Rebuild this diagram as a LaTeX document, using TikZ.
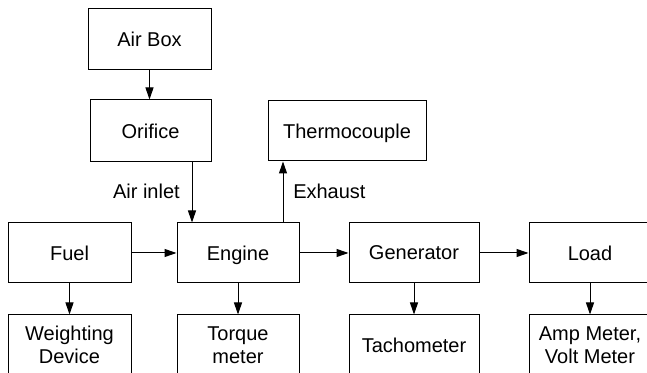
\documentclass[tikz,border=0pt]{standalone}
\usepackage{fontspec}
\setmainfont{Liberation Sans}
\usetikzlibrary{arrows.meta}
\begin{document}
\begin{tikzpicture}[x=0.75pt,y=-0.75pt,
  box/.style={draw=black, line width=0.75pt, rectangle, inner sep=0pt,
    minimum height=45pt, align=center, font=\fontsize{15pt}{17pt}\selectfont},
  onebox/.style={box, text depth=0pt},
  conn/.style={draw=black, line width=0.75pt, -{Triangle[length=9pt,width=6pt]}},
  lbl/.style={inner sep=0pt, font=\fontsize{15pt}{17pt}\selectfont}]
\useasboundingbox (0,0) rectangle (647,373);
\clip (0,0) rectangle (647,373);
\node[onebox, minimum width=92.25pt, minimum height=45.75pt] (airbox) at (149.5,39.5) {Air Box};
\node[onebox, minimum width=90.75pt, minimum height=46.5pt] (orifice) at (150.5,131) {Orifice};
\node[onebox, minimum width=118.5pt] (thermo) at (347,131) {Thermocouple};
\node[onebox, minimum width=92.25pt] (fuel) at (69.5,253) {Fuel};
\node[onebox, minimum width=91.5pt] (engine) at (238,253) {Engine};
\node[onebox, minimum width=97.5pt] (gen) at (414,253) {Generator};
\node[onebox, minimum width=91.5pt] (load) at (590,253) {Load};
\node[box, minimum width=92.25pt] (weight) at (69.5,345) {Weighting\\Device};
\node[box, minimum width=91.5pt] (torque) at (238,345) {Torque\\meter};
\node[onebox, minimum width=97.5pt] (tach) at (414,345) {Tachometer};
\node[box, minimum width=91.5pt] (amp) at (590,345) {Amp Meter,\\Volt Meter};
\coordinate (ai) at (192,192);
\coordinate (ex) at (283,192);
\draw[conn] (airbox.south) -- (airbox.south |- orifice.north);
\draw[conn] (orifice.south -| ai) -- (engine.north -| ai);
\draw[conn] (engine.north -| ex) -- (thermo.south -| ex);
\draw[conn] (fuel) -- (engine);
\draw[conn] (engine) -- (gen);
\draw[conn] (gen) -- (load);
\draw[conn] (fuel) -- (weight);
\draw[conn] (engine) -- (torque);
\draw[conn] (gen) -- (tach);
\draw[conn] (load) -- (amp);
\node[lbl, anchor=base east] (ailbl) at (180,199) {Air inlet};
\node[lbl, anchor=base west] (exlbl) at (293,199) {Exhaust};
\end{tikzpicture}
\end{document}
